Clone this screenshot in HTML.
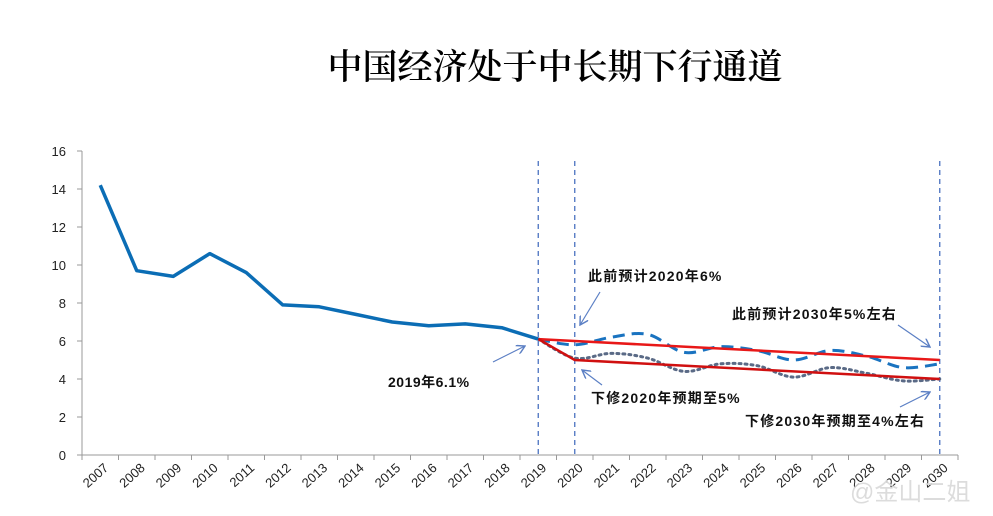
<!DOCTYPE html>
<html><head><meta charset="utf-8"><style>
html,body{margin:0;padding:0;background:#fff;width:993px;height:516px;overflow:hidden}
svg text{font-family:"Liberation Sans","Noto Sans CJK SC",sans-serif}
</style></head><body>
<svg id="chart" width="993" height="516" viewBox="0 0 993 516" xmlns="http://www.w3.org/2000/svg">
<defs><marker id="ah" markerWidth="8" markerHeight="8" refX="7" refY="4" orient="auto"><path d="M0,0 L7,4 L0,8" fill="none" stroke="#5b7fc4" stroke-width="1.2"/></marker></defs>
<text x="555" y="79" text-anchor="middle" font-size="35" style="font-family:'Noto Serif CJK SC','Noto Sans CJK SC',serif" font-weight="600" fill="#000">中国经济处于中长期下行通道</text>
<g id="axes"></g>
<g id="marks"></g>
<g font-size="14" font-weight="bold" fill="#111" letter-spacing="1.2">
<text x="388" y="387" letter-spacing="0.5">2019年6.1%</text>
<text x="588" y="281">此前预计2020年6%</text>
<text x="732" y="319">此前预计2030年5%左右</text>
<text x="591" y="403">下修2020年预期至5%</text>
<text x="745" y="426">下修2030年预期至4%左右</text>
</g>
<g stroke="#5b7fc4" stroke-width="1.2" marker-end="url(#ah)">
<line x1="493" y1="362" x2="525" y2="346"/>
<line x1="600" y1="292" x2="580" y2="325"/>
<line x1="898" y1="325" x2="930" y2="347"/>
<line x1="602" y1="385" x2="582" y2="370"/>
<line x1="900" y1="407" x2="930" y2="392"/>
</g>
<text x="850" y="500" font-size="24" fill="#d8d8d8" fill-opacity="0.9">@金山二姐</text>
</svg>
<script>
const years=['2007','2008','2009','2010','2011','2012','2013','2014','2015','2016','2017','2018','2019','2020','2021','2022','2023','2024','2025','2026','2027','2028','2029','2030'];
const yTicks=[0,2,4,6,8,10,12,14,16];
const actual=[14.2,9.7,9.4,10.6,9.6,7.9,7.8,7.4,7.0,6.8,6.9,6.7,6.1];
const prevForecast=[6.1,5.8,6.2,6.35,5.4,5.7,5.5,5.0,5.5,5.2,4.6,4.8];
const revForecast=[6.1,5.1,5.35,5.1,4.4,4.8,4.7,4.1,4.6,4.3,3.9,4.0];
const prevTrend=[6.1,6.0,5.0];
const revTrend=[6.1,5.0,4.0];
const NS='http://www.w3.org/2000/svg';
const x0=82,cw=36.5,y0=455,py=19;
const X=i=>x0+cw*(i+0.5);
const Y=v=>y0-v*py;
const axes=document.getElementById('axes'),marks=document.getElementById('marks');
function mk(tag,attrs,parent){const e=document.createElementNS(NS,tag);for(const k in attrs)e.setAttribute(k,attrs[k]);parent.appendChild(e);return e;}
let e=mk('line',{x1:x0,y1:y0,x2:x0,y2:Y(16),stroke:'#999','stroke-width':1},axes);


e=mk('line',{x1:x0,y1:y0,x2:x0+cw*years.length,y2:y0,stroke:'#999','stroke-width':1},axes);


yTicks.forEach(v=>{
 mk('line',{x1:x0-5,y1:Y(v),x2:x0,y2:Y(v),stroke:'#999'},axes);
 const t=mk('text',{x:x0-16,y:Y(v)+5,'text-anchor':'end','font-size':13,fill:'#222'},axes);
 t.textContent=v;
 
 
});
for(let i=0;i<=years.length;i++)mk('line',{x1:x0+cw*i,y1:y0,x2:x0+cw*i,y2:y0+5,stroke:'#999'},axes);
years.forEach((y,i)=>{
 const cx=X(i)+9,cy=y0+14;
 const t=mk('text',{x:cx,y:cy,'text-anchor':'end','font-size':13,fill:'#222',transform:`rotate(-42 ${cx} ${cy})`},axes);
 t.textContent=y;
 
 
});
[12,13,23].forEach(i=>{
 const l=mk('line',{x1:X(i),y1:Y(16)+10,x2:X(i),y2:y0,stroke:'#4a72c0','stroke-width':1.3,'stroke-dasharray':'5,4'},axes);
 
 
});
function smooth(pts){let d=`M${pts[0][0]},${pts[0][1]}`;for(let i=0;i<pts.length-1;i++){const p0=pts[i-1]||pts[i],p1=pts[i],p2=pts[i+1],p3=pts[i+2]||p2;d+=` C${p1[0]+(p2[0]-p0[0])/6},${p1[1]+(p2[1]-p0[1])/6} ${p2[0]-(p3[0]-p1[0])/6},${p2[1]-(p3[1]-p1[1])/6} ${p2[0]},${p2[1]}`;}return d;}
const line=(vals,start)=>vals.map((v,i)=>[X(start+i),Y(v)]);
let p=mk('path',{d:smooth(line(prevForecast,12)),fill:'none',stroke:'#1a73c0','stroke-width':3,'stroke-dasharray':'12,7'},marks);


p=mk('path',{d:smooth(line(revForecast,12)),fill:'none',stroke:'#5a6a86','stroke-width':3,'stroke-dasharray':'2,4','stroke-linecap':'round'},marks);


const trendPts=v=>[[X(12),Y(v[0])],[X(13),Y(v[1])],[X(23),Y(v[2])]];
p=mk('polyline',{points:trendPts(prevTrend).join(' '),fill:'none',stroke:'#e81818','stroke-width':2.5},marks);


p=mk('polyline',{points:trendPts(revTrend).join(' '),fill:'none',stroke:'#d01010','stroke-width':2.5},marks);


p=mk('polyline',{points:line(actual,0).join(' '),fill:'none',stroke:'#0b6db5','stroke-width':3.5,'stroke-linejoin':'round'},marks);


</script>
</body></html>
